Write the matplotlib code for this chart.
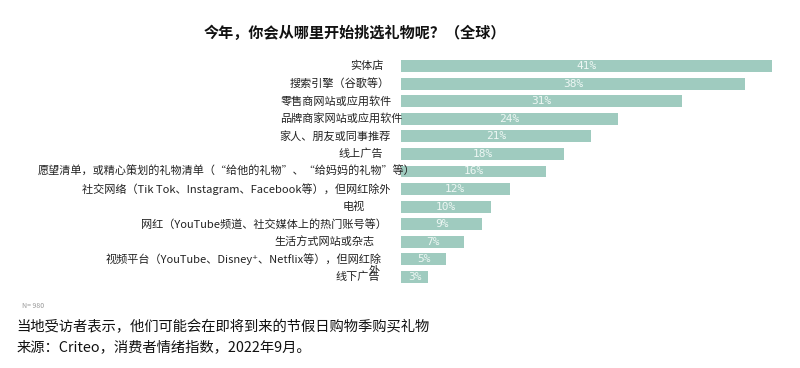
import matplotlib
matplotlib.use("Agg")
import matplotlib.pyplot as plt

plt.rcParams["font.family"] = ["Noto Sans CJK SC", "DejaVu Sans"]

# data
categories = [
    "实体店",
    "搜索引擎（谷歌等）",
    "零售商网站或应用软件",
    "品牌商家网站或应用软件",
    "家人、朋友或同事推荐",
    "线上广告",
    "愿望清单，或精心策划的礼物清单（“给他的礼物”、“给妈妈的礼物”等）",
    "社交网络（Tik Tok、Instagram、Facebook等），但网红除外",
    "电视",
    "网红（YouTube频道、社交媒体上的热门账号等）",
    "生活方式网站或杂志",
    "视频平台（YouTube、Disney⁺、Netflix等），但网红除",
    "线下广告",
]
values = [41, 38, 31, 24, 21, 18, 16, 12, 10, 9, 7, 5, 3]

# right edge of each label, in pixels left(-)/right(+) of the bar start
label_dx = [-17, -11, -9, 1, -10, -18, 14, -10, -36, -14, -26, -19, -21]

bar_color = "#9fcbbf"

fig = plt.figure(figsize=(8, 3.68), dpi=100)
ax = fig.add_axes([0.50125, 0.2234, 0.965 - 0.50125, 0.8446 - 0.2234])

y = list(range(len(values)))
bars = ax.barh(y, values, height=0.68, color=bar_color)
ax.set_xlim(0, 41)
ax.set_ylim(len(values) - 0.5, -0.5)
ax.axis("off")

for b, v in zip(bars, values):
    ax.text(b.get_width() / 2, b.get_y() + b.get_height() / 2, f"{v}%",
            ha="center", va="center", fontsize=8, color="#eef7f4",
            family="DejaVu Sans Mono")

px = 0.72  # points per pixel at dpi 100
for i, (lab, dx) in enumerate(zip(categories, label_dx)):
    ax.annotate(lab, xy=(0, i), xytext=(dx * px, 0), textcoords="offset points",
                ha="right", va="center", fontsize=8, color="#222222",
                annotation_clip=False)
# the wrapped last character of the video-platform label
ax.annotate("外", xy=(0, 11), xytext=(-21 * px, -12 * px), textcoords="offset points",
            ha="right", va="center", fontsize=8, color="#222222",
            annotation_clip=False)

fig.text(0.444, 0.91, "今年，你会从哪里开始挑选礼物呢？（全球）",
         ha="center", va="center", fontsize=10.9, fontweight="bold", color="#111111")

fig.text(0.027, 0.168, "N= 980", ha="left", va="center", fontsize=5, color="#999999")
fig.text(0.021, 0.111, "当地受访者表示，他们可能会在即将到来的节假日购物季购买礼物",
         ha="left", va="center", fontsize=10.3, color="#111111")
fig.text(0.021, 0.057, "来源：Criteo，消费者情绪指数，2022年9月。",
         ha="left", va="center", fontsize=10.3, color="#111111")

fig.savefig("out.png", dpi=100, facecolor="white")
